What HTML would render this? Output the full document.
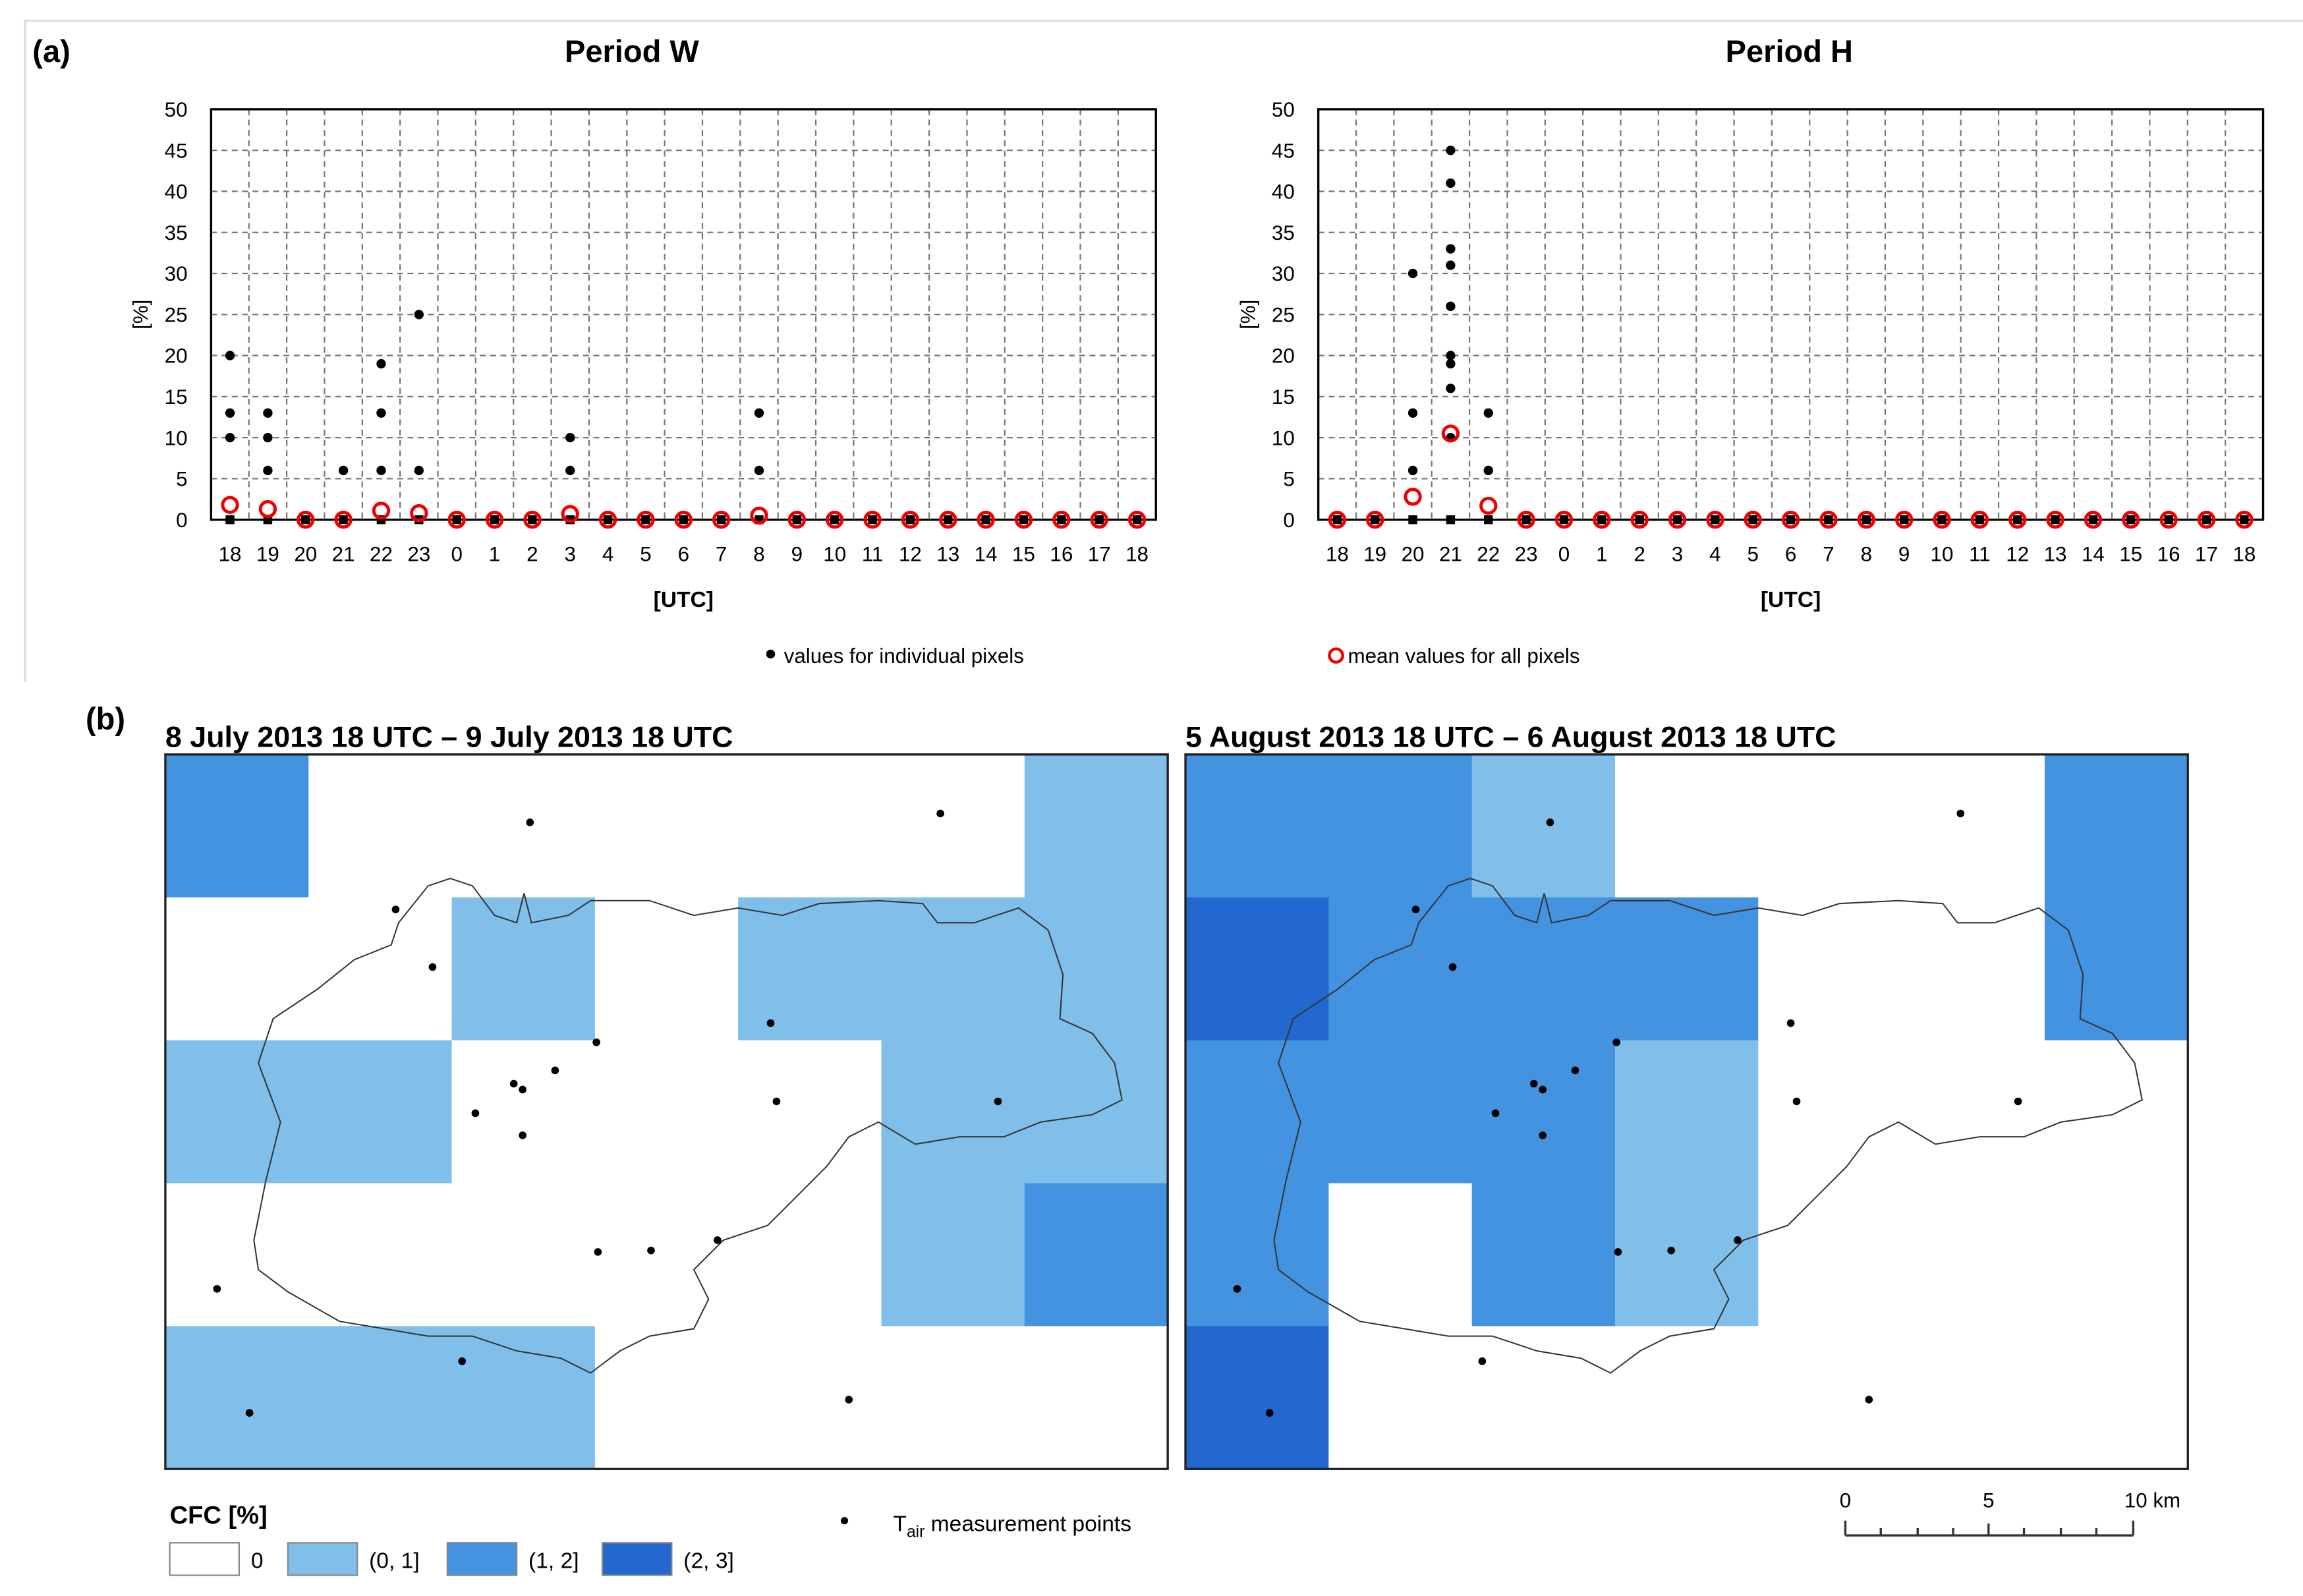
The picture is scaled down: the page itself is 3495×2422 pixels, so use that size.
<!DOCTYPE html>
<html><head><meta charset="utf-8"><style>
html,body{margin:0;padding:0;background:#fff}
svg{display:block}
text{font-family:"Liberation Sans",sans-serif}
</style></head><body>
<svg id="s" width="3495" height="2422" viewBox="0 0 1560 1081" xmlns="http://www.w3.org/2000/svg">
<rect width="1560" height="1081" fill="#fff"/>
<path d="M17 462 V14 H1560" fill="none" stroke="#ddd" stroke-width="1.5"/>
<text x="22" y="42" font-size="21" font-weight="bold">(a)</text>
<text x="428" y="42" font-size="21" font-weight="bold" text-anchor="middle">Period W</text>
<text x="1212" y="42" font-size="21" font-weight="bold" text-anchor="middle">Period H</text>
<g id="cw"></g>
<g id="ch"></g>
<g>
<circle cx="522" cy="443" r="3" fill="#000"/>
<text x="531" y="449" font-size="14">values for individual pixels</text>
<circle cx="905" cy="444" r="4.5" fill="none" stroke="#e00" stroke-width="2"/>
<text x="913" y="449" font-size="14">mean values for all pixels</text>
</g>
<text x="58" y="494" font-size="21" font-weight="bold">(b)</text>
<text x="112" y="506" font-size="20" font-weight="bold">8 July 2013 18 UTC – 9 July 2013 18 UTC</text>
<text x="803" y="506" font-size="20" font-weight="bold">5 August 2013 18 UTC – 6 August 2013 18 UTC</text>
<g id="ml"></g>
<g id="mr"></g>
<g>
<text x="115" y="1032" font-size="17" font-weight="bold">CFC [%]</text>
<rect x="115" y="1045" width="47" height="22" fill="#fff" stroke="#888"/>
<text x="170" y="1062" font-size="15">0</text>
<rect x="195" y="1045" width="47" height="22" fill="#80bfea" stroke="#888"/>
<text x="250" y="1062" font-size="15">(0, 1]</text>
<rect x="303" y="1045" width="47" height="22" fill="#4493e0" stroke="#888"/>
<text x="358" y="1062" font-size="15">(1, 2]</text>
<rect x="408" y="1045" width="47" height="22" fill="#2268d0" stroke="#888"/>
<text x="463" y="1062" font-size="15">(2, 3]</text>
<circle cx="572" cy="1030" r="2.5" fill="#000"/>
<text x="605" y="1037" font-size="15">T<tspan font-size="11" dy="4">air</tspan><tspan dy="-4"> measurement points</tspan></text>
</g>
<g font-size="14">
<text x="1250" y="1021" text-anchor="middle">0</text>
<text x="1347" y="1021" text-anchor="middle">5</text>
<text x="1458" y="1021" text-anchor="middle">10 km</text>
<path d="M1250 1040 H1445 M1250 1030 V1040 M1445 1030 V1040 M1347 1032 V1040 M1274 1035 V1040 M1299 1035 V1040 M1323 1035 V1040 M1371 1035 V1040 M1396 1035 V1040 M1420 1035 V1040" stroke="#333" stroke-width="1.5" fill="none"/>
</g>
</svg>
<script>
const hours = ["18","19","20","21","22","23","0","1","2","3","4","5","6","7","8","9","10","11","12","13","14","15","16","17","18"];
const yTicks = [0,5,10,15,20,25,30,35,40,45,50];
const wPixels = [[20,13,10,0],[13,10,6,0],[0],[6,0],[19,13,6,0],[25,6,0],[0],[0],[0],[10,6,0],[0],[0],[0],[0],[13,6,0],[0],[0],[0],[0],[0],[0],[0],[0],[0],[0]];
const wMeans = [1.8,1.3,0,0,1.1,0.8,0,0,0,0.7,0,0,0,0,0.5,0,0,0,0,0,0,0,0,0,0];
const hPixels = [[0],[0],[30,13,6,0],[45,41,33,31,26,20,19,16,10,0],[13,6,0],[0],[0],[0],[0],[0],[0],[0],[0],[0],[0],[0],[0],[0],[0],[0],[0],[0],[0],[0],[0]];
const hMeans = [0,0,2.8,10.5,1.7,0,0,0,0,0,0,0,0,0,0,0,0,0,0,0,0,0,0,0,0];
const NS="http://www.w3.org/2000/svg";
function mk(p,t,a){const e=document.createElementNS(NS,t);for(const k in a)e.setAttribute(k,a[k]);p.appendChild(e);return e;}
function chart(g,x0,pix,means){
  const x1=x0+640,y0=74,y1=352;
  const bw=(x1-x0)/hours.length;
  const X=i=>x0+bw*(i+0.5), Y=v=>y1-(v/50)*(y1-y0);
  for(let i=1;i<hours.length;i++){const l=mk(g,'line',{x1:x0+bw*i,x2:x0+bw*i,y1:y0,y2:y1,stroke:'#777','stroke-dasharray':'4 3'});
    
    }
  yTicks.forEach(v=>{
    if(v>0&&v<50){const l=mk(g,'line',{x1:x0,x2:x1,y1:Y(v),y2:Y(v),stroke:'#777','stroke-dasharray':'4 3'});
      
      }
    const t=mk(g,'text',{x:x0-16,y:Y(v)+5,'font-size':14,'text-anchor':'end'});t.textContent=v;
    
    
  });
  const r=mk(g,'rect',{x:x0,y:y0,width:640,height:y1-y0,fill:'none',stroke:'#000','stroke-width':1.5});
  
  
  hours.forEach((h,i)=>{const t=mk(g,'text',{x:X(i),y:380,'font-size':14,'text-anchor':'middle'});t.textContent=h;
    
    });
  const yt=mk(g,'text',{transform:`translate(${x0-43},${Y(25)}) rotate(-90)`,'font-size':14,'text-anchor':'middle'});yt.textContent='[%]';
  
  
  const xt=mk(g,'text',{x:x0+320,y:411,'font-size':15,'font-weight':'bold','text-anchor':'middle'});xt.textContent='[UTC]';
  
  
  pix.forEach((arr,i)=>arr.forEach(v=>{
    const c=v===0?mk(g,'rect',{x:X(i)-3,y:Y(0)-3,width:6,height:6,fill:'#000'}):mk(g,'circle',{cx:X(i),cy:Y(v),r:3.2,fill:'#000'});
    
    
  }));
  means.forEach((v,i)=>{const c=mk(g,'circle',{cx:X(i),cy:Y(v),r:5,fill:'none',stroke:'#e00','stroke-width':2.2});
    
    });
}
chart(document.getElementById('cw'),143,wPixels,wMeans);
chart(document.getElementById('ch'),893,hPixels,hMeans);

const cols=['#fff','#80bfea','#4493e0','#2268d0'];
const leftGrid=[[2,0,0,0,0,0,1],[0,0,1,0,1,1,1],[1,1,0,0,0,1,1],[0,0,0,0,0,1,2],[1,1,1,0,0,0,0]];
const rightGrid=[[2,2,1,0,0,0,2],[3,2,2,2,0,0,2],[2,2,2,1,0,0,0],[2,0,2,1,0,0,0],[3,0,0,0,0,0,0]];
const stations=[[359,557],[637,551],[268,616],[293,655],[522,693],[404,706],[376,725],[348,734],[354,738],[322,754],[526,746],[676,746],[354,769],[405,848],[441,847],[486,840],[147,873],[313,922],[169,957],[575,948]];
const outline=[[172,840],[180,800],[190,760],[175,720],[185,690],[215,670],[240,650],[265,640],[270,625],[290,600],[305,595],[320,600],[335,620],[350,625],[355,605],[360,625],[385,620],[400,610],[440,610],[470,620],[500,615],[530,620],[555,612],[595,610],[625,612],[635,625],[660,625],[690,615],[710,630],[720,660],[718,690],[740,700],[755,720],[760,745],[740,755],[705,760],[680,770],[650,770],[620,775],[595,760],[575,770],[560,790],[540,810],[520,830],[490,840],[470,860],[480,880],[470,900],[440,905],[420,915],[400,930],[380,920],[350,915],[320,905],[290,905],[260,900],[230,895],[195,875],[175,860]];
function map(g,dx,grid){
  const cw=679/7,chh=484/5;
  grid.forEach((row,r)=>row.forEach((v,c)=>{const e=mk(g,'rect',{x:112+dx+c*cw,y:511+r*chh,width:cw+0.5,height:chh+0.5,fill:cols[v]});
    
    }));
  const p=mk(g,'polygon',{points:outline.map(q=>(q[0]+dx)+','+q[1]).join(' '),fill:'none',stroke:'#333','stroke-width':0.9});
  
  
  stations.forEach(s=>{const c=mk(g,'circle',{cx:s[0]+dx,cy:s[1],r:2.6,fill:'#000'});
    
    });
  const f=mk(g,'rect',{x:112+dx,y:511,width:679,height:484,fill:'none',stroke:'#222','stroke-width':1.5});
  
  
}
map(document.getElementById('ml'),0,leftGrid);
map(document.getElementById('mr'),691,rightGrid);
</script>
</body></html>
